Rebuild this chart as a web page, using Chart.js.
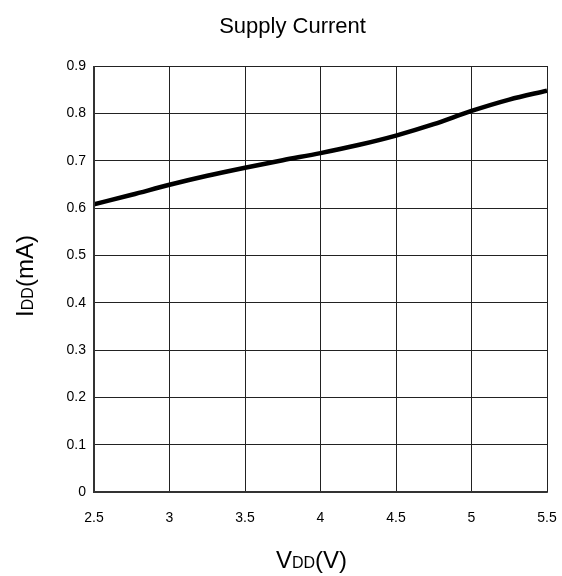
<!DOCTYPE html>
<html>
<head>
<meta charset="utf-8">
<script src="https://cdn.jsdelivr.net/npm/chart.js@4"></script>
<style>
html,body{margin:0;padding:0;background:#fff;}
#wrap{width:562px;height:576px;position:relative;}
</style>
</head>
<body>
<div id="wrap"><canvas id="c" width="562" height="576"></canvas></div>
<script>
const voltage = [2.5, 2.75, 3.0, 3.25, 3.5, 3.75, 4.0, 4.25, 4.5, 4.75, 5.0, 5.25, 5.5];
const current = [0.608, 0.628, 0.649, 0.668, 0.685, 0.701, 0.716, 0.733, 0.753, 0.777, 0.805, 0.829, 0.848];
const xTickLabels = ["2.5", "3", "3.5", "4", "4.5", "5", "5.5"];
const yTickLabels = ["0", "0.1", "0.2", "0.3", "0.4", "0.5", "0.6", "0.7", "0.8", "0.9"];
const titleText = "Supply Current";
const xTitleParts = [["V", false], ["DD", true], ["(V)", false]];
const yTitleParts = [["I", false], ["DD", true], ["(mA)", false]];

const FONT = "'Liberation Sans', Arial, sans-serif";

function drawParts(ctx, parts, bigSize, smallSize) {
  let total = 0;
  const widths = parts.map(([t, small]) => {
    ctx.font = (small ? smallSize : bigSize) + "px " + FONT;
    const w = ctx.measureText(t).width;
    total += w;
    return w;
  });
  let x = -total / 2;
  parts.forEach(([t, small], i) => {
    ctx.font = (small ? smallSize : bigSize) + "px " + FONT;
    ctx.textAlign = "left";
    ctx.textBaseline = "alphabetic";
    ctx.fillText(t, x, 0);
    x += widths[i];
  });
}

const textPlugin = {
  id: 'texts',
  afterDraw(chart) {
    const ctx = chart.ctx;
    const area = chart.chartArea;
    ctx.save();
    ctx.fillStyle = '#000';
    ctx.font = "22px " + FONT;
    ctx.textAlign = 'center';
    ctx.textBaseline = 'alphabetic';
    ctx.fillText(titleText, (area.left + area.right) / 2 - 28, 33);
    ctx.save();
    ctx.translate((area.left + area.right) / 2 - 9, 568);
    drawParts(ctx, xTitleParts, 24, 16);
    ctx.restore();
    ctx.save();
    ctx.translate(33, (area.top + area.bottom) / 2 - 3);
    ctx.rotate(-Math.PI / 2);
    drawParts(ctx, yTitleParts, 24, 16);
    ctx.restore();
    ctx.strokeStyle = '#333';
    ctx.lineWidth = 2;
    ctx.beginPath();
    ctx.moveTo(area.left, area.top);
    ctx.lineTo(area.left, area.bottom);
    ctx.lineTo(area.right, area.bottom);
    ctx.stroke();
    ctx.restore();
  }
};

new Chart(document.getElementById('c'), {
  type: 'line',
  data: {
    datasets: [{
      data: voltage.map((v, i) => ({x: v, y: current[i]})),
      borderColor: '#000',
      borderWidth: 4.5,
      pointRadius: 0,
      cubicInterpolationMode: 'monotone',
      fill: false
    }]
  },
  options: {
    responsive: false,
    animation: false,
    devicePixelRatio: 1,
    layout: {padding: {top: 66, right: 15, left: 0, bottom: 0}},
    plugins: {legend: {display: false}, tooltip: {enabled: false}},
    scales: {
      x: {
        type: 'linear',
        min: 2.5, max: 5.5,
        afterFit: s => { s.height = 84; s.paddingLeft = 0; s.paddingRight = 0; },
        grid: {color: '#222', lineWidth: 1, drawTicks: false},
        border: {display: true, color: '#555', width: 1},
        ticks: {
          stepSize: 0.5,
          padding: 18,
          maxRotation: 0,
          color: '#000',
          font: {family: FONT, size: 14},
          callback: (v, i) => xTickLabels[i]
        }
      },
      y: {
        type: 'linear',
        min: 0, max: 0.9,
        afterFit: s => { s.width = 94; s.paddingTop = 0; s.paddingBottom = 0; },
        grid: {color: '#222', lineWidth: 1, drawTicks: false},
        border: {display: true, color: '#555', width: 1},
        ticks: {
          stepSize: 0.1,
          padding: 8,
          color: '#000',
          font: {family: FONT, size: 14},
          callback: (v, i) => yTickLabels[i]
        }
      }
    }
  },
  plugins: [textPlugin]
});
</script>
</body>
</html>
